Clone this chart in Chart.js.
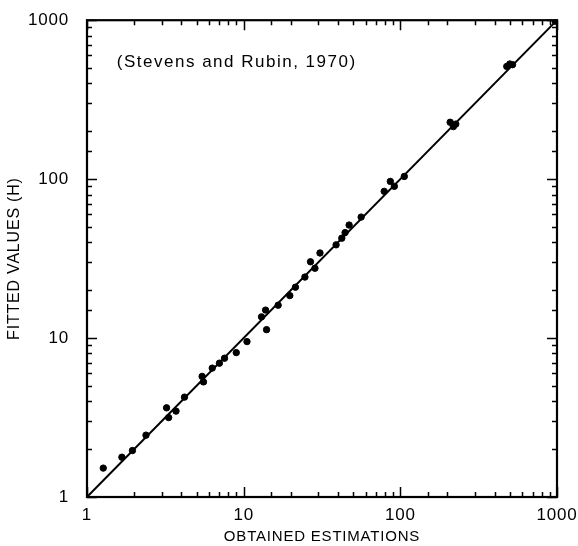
<!DOCTYPE html>
<html>
<head>
<meta charset="utf-8">
<script src="https://cdn.jsdelivr.net/npm/chart.js@4/dist/chart.umd.min.js"></script>
<style>
  html, body { margin: 0; padding: 0; background: #fff; }
  #wrap { width: 578px; height: 546px; }
</style>
</head>
<body>
<div id="wrap"><canvas id="chart" width="578" height="546"></canvas></div>
<script>
// obtained estimations (x) and fitted values H (y)
const obtained = [1.27, 1.67, 1.95, 2.38, 3.22, 3.32, 3.7, 4.19, 5.43, 5.54,
    6.3, 7.0, 7.55, 8.97, 10.5, 13.0, 13.8, 14.0, 16.6, 19.7,
    21.4, 24.6, 26.7, 28.5, 30.7, 38.9, 42.3, 44.4, 47.1, 56.2,
    78.9, 86.3, 91.6, 106, 208, 218, 226, 478, 500, 520, 975];
const fitted = [1.52, 1.78, 1.96, 2.45, 3.64, 3.16, 3.47, 4.25, 5.74, 5.3,
    6.47, 6.95, 7.47, 8.1, 9.5, 13.6, 15.0, 11.3, 16.1, 18.5,
    20.9, 24.2, 30.2, 27.5, 34.3, 38.6, 42.5, 46.1, 51.4, 57.7,
    83.8, 96.8, 90.1, 104, 228, 214, 222, 512, 530, 525, 985];
// line of identity drawn across the whole range
const fitLine = [1, 1000];
const tickLabels = [1, 10, 100, 1000];
const note = '(Stevens and Rubin, 1970)';

const points = obtained.map((v, i) => ({ x: v, y: fitted[i] }));
const linePts = fitLine.map(v => ({ x: v, y: v }));

const family = '"Liberation Sans", Arial, sans-serif';

// inward tick marks on all four sides, plus frame and the citation
const framePlugin = {
    id: 'frame',
    beforeDraw(chart) {
        // the old plot uses widely spaced lettering
        chart.ctx.letterSpacing = '0.8px';
    },
    afterDraw(chart) {
        const { ctx, chartArea: a, scales } = chart;
        ctx.save();
        ctx.strokeStyle = '#000';
        ctx.lineWidth = 1.5;
        const isMajor = v => Math.abs(Math.log10(v) - Math.round(Math.log10(v))) < 1e-6;

        scales.x.ticks.forEach(t => {
            const px = Math.round(scales.x.getPixelForValue(t.value)) + 0.5;
            const len = isMajor(t.value) ? 10 : 5;
            ctx.beginPath();
            ctx.moveTo(px, a.bottom); ctx.lineTo(px, a.bottom - len);
            ctx.moveTo(px, a.top); ctx.lineTo(px, a.top + len);
            ctx.stroke();
        });
        scales.y.ticks.forEach(t => {
            const py = Math.round(scales.y.getPixelForValue(t.value)) + 0.5;
            const len = isMajor(t.value) ? 10 : 5;
            ctx.beginPath();
            ctx.moveTo(a.left, py); ctx.lineTo(a.left + len, py);
            ctx.moveTo(a.right, py); ctx.lineTo(a.right - len, py);
            ctx.stroke();
        });

        ctx.lineWidth = 2.2;
        ctx.strokeRect(a.left, a.top, a.right - a.left, a.bottom - a.top);

        ctx.fillStyle = '#000';
        ctx.font = '17px ' + family;
        ctx.letterSpacing = '1.5px';
        ctx.textBaseline = 'middle';
        ctx.textAlign = 'left';
        ctx.fillText(note, scales.x.getPixelForValue(1.55), scales.y.getPixelForValue(543));
        ctx.restore();
    }
};

new Chart(document.getElementById('chart'), {
    type: 'scatter',
    data: {
        datasets: [{
            type: 'line',
            data: linePts,
            borderColor: '#000',
            borderWidth: 2,
            pointRadius: 0,
            fill: false
        }, {
            data: points,
            backgroundColor: '#000',
            borderColor: '#000',
            pointRadius: 3.2,
            pointHoverRadius: 3.2
        }]
    },
    options: {
        responsive: false,
        animation: false,
        layout: { padding: { top: 15, right: 21, left: 0, bottom: 0 } },
        plugins: { legend: { display: false }, tooltip: { enabled: false } },
        scales: {
            x: {
                type: 'logarithmic',
                min: 1,
                max: 1000,
                grid: { display: false },
                border: { display: false },
                afterFit(scale) { scale.height = 49; },
                ticks: {
                    autoSkip: false,
                    maxRotation: 0,
                    padding: 0,
                    color: '#000',
                    font: { family, size: 17 },
                    callback: v => tickLabels.includes(v) ? String(v) : ''
                },
                title: {
                    display: true,
                    text: 'OBTAINED ESTIMATIONS',
                    color: '#000',
                    font: { family, size: 15 },
                    padding: { top: 0, bottom: 0 }
                }
            },
            y: {
                type: 'logarithmic',
                min: 1,
                max: 1000,
                grid: { display: false },
                border: { display: false },
                afterFit(scale) { scale.width = 87; },
                ticks: {
                    autoSkip: false,
                    padding: 10,
                    color: '#000',
                    font: { family, size: 17 },
                    callback: v => tickLabels.includes(v) ? String(v) : ''
                },
                title: {
                    display: true,
                    text: 'FITTED VALUES (H)',
                    color: '#000',
                    font: { family, size: 16 },
                    padding: { top: 5, bottom: 0 }
                }
            }
        }
    },
    plugins: [framePlugin]
});
</script>
</body>
</html>
